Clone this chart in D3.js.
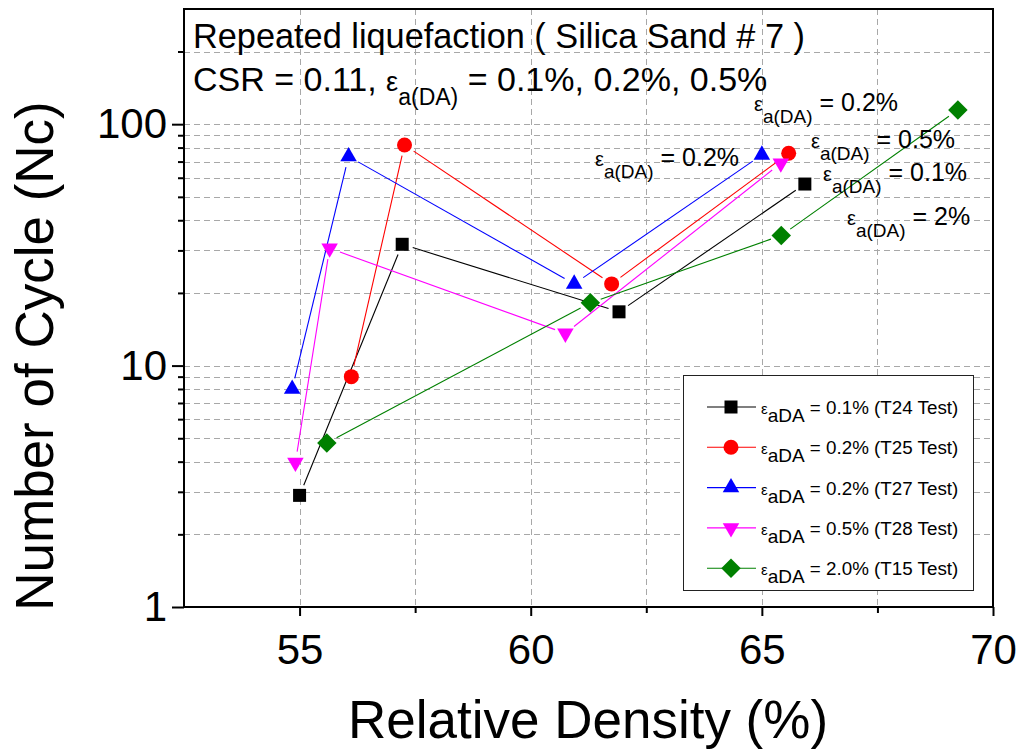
<!DOCTYPE html>
<html>
<head>
<meta charset="utf-8">
<script src="https://cdn.jsdelivr.net/npm/d3@7"></script>
<style>
  body { margin: 0; background: #fff; }
  svg { display: block; }
  text { font-family: "Liberation Sans", Arial, Helvetica, sans-serif; fill: #000; }
</style>
</head>
<body>
<svg id="chart" width="1021" height="755"></svg>
<script>
// Relative density (%) and number of cycles to liquefaction, one pair of arrays per test
const densityT24 = [55.0, 57.22, 61.91, 65.93];
const cyclesT24  = [2.9, 31.8, 16.7, 56.5];
const densityT25 = [56.12, 57.27, 61.75, 65.58];
const cyclesT25  = [9.0, 82, 21.8, 75.8];
const densityT27 = [54.84, 56.06, 60.94, 65.0];
const cyclesT27  = [8.0, 73.5, 21.8, 74.6];
const densityT28 = [54.91, 55.65, 60.75, 65.41];
const cyclesT28  = [3.97, 30.6, 13.6, 68.9];
const densityT15 = [55.59, 61.29, 65.42, 69.24];
const cyclesT15  = [4.78, 18.2, 34.6, 114.6];

const testNames   = ["T24", "T25", "T27", "T28", "T15"];
const strainLevel = ["0.1%", "0.2%", "0.2%", "0.5%", "2.0%"];

const xTicks = [55, 60, 65, 70];
const xMinorTicks = [57.5, 62.5, 67.5];
const yTicks = [1, 10, 100];
const yMinorTicks = [2, 3, 4, 5, 6, 7, 8, 9, 20, 30, 40, 50, 60, 70, 80, 90, 200];

// Strain labels written next to the curves
const noteValues = ["0.2%", "0.2%", "0.5%", "0.1%", "2%"];

// ---- styling / layout ----
const styles = [
  { color: "#000000", shape: d3.symbolSquare,   size: 169, rotate: 0 },
  { color: "#ff0000", shape: d3.symbolCircle,   size: 177, rotate: 0 },
  { color: "#0000ff", shape: d3.symbolTriangle, size: 118, rotate: 0 },
  { color: "#ff00ff", shape: d3.symbolTriangle, size: 118, rotate: 180 },
  { color: "#008000", shape: d3.symbolSquare,   size: 190, rotate: 45 }
];
const series = [
  [densityT24, cyclesT24], [densityT25, cyclesT25], [densityT27, cyclesT27],
  [densityT28, cyclesT28], [densityT15, cyclesT15]
].map(([xs, ys], i) => ({
  name: testNames[i], strain: strainLevel[i], style: styles[i],
  points: xs.map((d, j) => ({ x: d, y: ys[j] }))
}));

const L = 184, R = 993, T = 9, B = 607;
const x = d3.scaleLinear().domain([52.5, 70]).range([L, R]);
const y = d3.scaleLog().domain([1, 300]).range([B, T]);

const svg = d3.select("#chart");

// dashed grid
const grid = svg.append("g").attr("stroke", "#a8a8a8").attr("stroke-width", 1)
  .attr("stroke-dasharray", "6,4");
grid.selectAll(".gx").data([55, 57.5, 60, 62.5, 65, 67.5]).join("line")
  .attr("x1", d => Math.round(x(d)) + 0.5).attr("x2", d => Math.round(x(d)) + 0.5)
  .attr("y1", T).attr("y2", B);
grid.selectAll(".gy").data(yMinorTicks.concat([10, 100])).join("line")
  .attr("x1", L).attr("x2", R)
  .attr("y1", d => Math.round(y(d)) + 0.5).attr("y2", d => Math.round(y(d)) + 0.5);

// axes
const axX = svg.append("g").attr("transform", `translate(0,${B})`)
  .call(d3.axisBottom(x).tickValues(xTicks).tickSize(9).tickPadding(18).tickFormat(d3.format("d")));
const axXm = svg.append("g").attr("transform", `translate(0,${B})`)
  .call(d3.axisBottom(x).tickValues(xMinorTicks).tickSize(6).tickFormat(""));
const axY = svg.append("g").attr("transform", `translate(${L},0)`)
  .call(d3.axisLeft(y).tickValues(yTicks).tickSize(12).tickPadding(5).tickFormat(d3.format("d")));
const axYm = svg.append("g").attr("transform", `translate(${L},0)`)
  .call(d3.axisLeft(y).tickValues(yMinorTicks).tickSize(6).tickFormat(""));
[axX, axXm, axY, axYm].forEach(g => {
  g.select(".domain").remove();
  g.selectAll(".tick line").attr("stroke", "#000").attr("stroke-width", 2);
});
axX.selectAll(".tick text").attr("font-size", 42).attr("font-family", null);
axY.selectAll(".tick text").attr("font-size", 42).attr("font-family", null);

// frame
svg.append("rect").attr("x", L).attr("y", T).attr("width", R - L).attr("height", B - T)
  .attr("fill", "none").attr("stroke", "#000").attr("stroke-width", 2);

// axis titles
svg.append("text").attr("x", 588).attr("y", 738).attr("text-anchor", "middle")
  .attr("font-size", 53).text("Relative Density (%)");
svg.append("text").attr("transform", "translate(53,356) rotate(-90)").attr("text-anchor", "middle")
  .attr("font-size", 53).text("Number of Cycle (Nc)");

// connecting lines, trimmed so they stop short of the markers
const gap = 11;
const lines = svg.append("g");
series.forEach(s => {
  for (let j = 0; j < s.points.length - 1; j++) {
    const a = s.points[j], b = s.points[j + 1];
    const x1 = x(a.x), y1 = y(a.y), x2 = x(b.x), y2 = y(b.y);
    const len = Math.hypot(x2 - x1, y2 - y1);
    if (len <= 2 * gap) continue;
    const ux = (x2 - x1) / len, uy = (y2 - y1) / len;
    lines.append("line")
      .attr("x1", x1 + ux * gap).attr("y1", y1 + uy * gap)
      .attr("x2", x2 - ux * gap).attr("y2", y2 - uy * gap)
      .attr("stroke", s.style.color).attr("stroke-width", 1.1);
  }
});

// markers
const sym = st => d3.symbol().type(st.shape).size(st.size)();
series.forEach(s => {
  svg.append("g").selectAll("path").data(s.points).join("path")
    .attr("d", sym(s.style))
    .attr("transform", d => `translate(${x(d.x)},${y(d.y)}) rotate(${s.style.rotate})`)
    .attr("fill", s.style.color);
});

// epsilon label with a(DA) subscript followed by a value
function strainText(g, px, py, value, big, small, shift, lead) {
  const t = g.append("text").attr("x", px).attr("y", py).attr("font-size", big);
  if (lead) t.append("tspan").text(lead);
  t.append("tspan").attr("font-size", big * 0.8).text("\u03b5");
  t.append("tspan").attr("font-size", small).attr("dy", shift).text("a(DA)");
  t.append("tspan").attr("dy", -shift).text(" = " + value);
  return t;
}

// heading
svg.append("text").attr("x", 193).attr("y", 48).attr("font-size", 34.3)
  .text("Repeated liquefaction ( Silica Sand # 7 )");
strainText(svg, 193, 91, "0.1%, 0.2%, 0.5%", 34, 23, 14, "CSR = 0.11, ");

// notes beside the curves
const notePos = [[754, 111], [595, 166], [811, 148], [823, 181], [847, 225]];
noteValues.forEach((v, i) => strainText(svg, notePos[i][0], notePos[i][1], v, 25, 19, 12));

// legend
const lg = svg.append("g");
lg.append("rect").attr("x", 683.5).attr("y", 375.5).attr("width", 290).attr("height", 215)
  .attr("fill", "#fff").attr("stroke", "#222").attr("stroke-width", 1);
series.forEach((s, i) => {
  const cy = 407 + i * 40.3;
  lg.append("line").attr("x1", 707).attr("x2", 756).attr("y1", cy).attr("y2", cy)
    .attr("stroke", s.style.color).attr("stroke-width", 1.1);
  lg.append("path").attr("d", sym(s.style))
    .attr("transform", `translate(731,${cy}) rotate(${s.style.rotate})`)
    .attr("fill", s.style.color);
  const t = lg.append("text").attr("x", 761).attr("y", cy + 7).attr("font-size", 18.8);
  t.append("tspan").attr("font-size", 15).text("\u03b5");
  t.append("tspan").attr("font-size", 19).attr("dy", 8).text("aDA");
  t.append("tspan").attr("dy", -8).text(` = ${s.strain} (${s.name} Test)`);
});
</script>
</body>
</html>
